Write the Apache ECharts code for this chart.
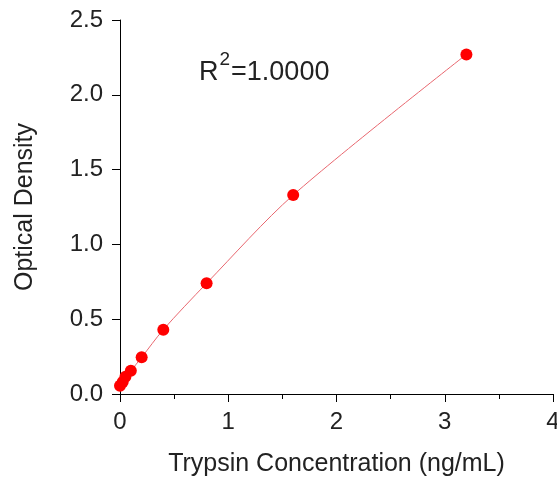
<!DOCTYPE html>
<html>
<head>
<meta charset="utf-8">
<script src="https://cdn.jsdelivr.net/npm/echarts@6/dist/echarts.min.js"></script>
<style>
  html, body { margin: 0; padding: 0; background: #fff; }
  #chart { width: 557px; height: 482px; }
</style>
</head>
<body>
<div id="chart"></div>
<script>
var concentration = [0, 0.025, 0.05, 0.1, 0.2, 0.4, 0.8, 1.6, 3.2];
var density = [0.055, 0.08, 0.115, 0.155, 0.245, 0.43, 0.74, 1.33, 2.27];
var xTicks = [0, 1, 2, 3, 4];
var yTicks = [0, 0.5, 1, 1.5, 2, 2.5];

var points = concentration.map(function (c, i) { return [c, density[i]]; });
var font = "Liberation Sans, Arial, sans-serif";

var chart = echarts.init(document.getElementById("chart"));
chart.setOption({
    animation: false,
    grid: { left: 120, right: 4, top: 20, bottom: 88, outerBoundsMode: "none" },
    xAxis: {
        type: "value",
        min: xTicks[0],
        max: xTicks[xTicks.length - 1],
        interval: 1,
        name: "Trypsin Concentration (ng/mL)",
        nameLocation: "middle",
        nameGap: 58,
        nameTextStyle: { color: "#222", fontSize: 25, fontFamily: font },
        axisLine: { lineStyle: { color: "#000", width: 1 } },
        axisTick: { length: 8, lineStyle: { color: "#000" } },
        minorTick: { show: true, splitNumber: 2, length: 5, lineStyle: { color: "#000" } },
        axisLabel: { color: "#222", fontSize: 24, fontFamily: font, margin: 16 },
        splitLine: { show: false }
    },
    yAxis: {
        type: "value",
        min: yTicks[0],
        max: yTicks[yTicks.length - 1],
        interval: 0.5,
        name: "Optical Density",
        nameLocation: "middle",
        nameGap: 82,
        nameTextStyle: { color: "#222", fontSize: 25, fontFamily: font },
        axisLine: { show: true, lineStyle: { color: "#000", width: 1 } },
        axisTick: { show: true, length: 8, lineStyle: { color: "#000" } },
        axisLabel: {
            color: "#222", fontSize: 24, fontFamily: font, margin: 17,
            formatter: function (v) { return v.toFixed(1); }
        },
        splitLine: { show: false }
    },
    graphic: [{
        type: "text",
        left: 199,
        top: 50,
        style: {
            text: "{b|R}{s|2}{b|=1.0000}",
            rich: {
                b: { fontSize: 27, fontFamily: font, fill: "#222", verticalAlign: "bottom", lineHeight: 36 },
                s: { fontSize: 19, fontFamily: font, fill: "#222", verticalAlign: "top", padding: [0, 1, 14, 1], lineHeight: 36 }
            }
        }
    }],
    series: [{
        type: "line",
        data: points,
        smooth: 0.3,
        symbol: "none",
        lineStyle: { color: "#e8676f", width: 1 },
        z: 2
    }, {
        type: "scatter",
        data: points,
        symbolSize: 12,
        itemStyle: { color: "#ff0000", opacity: 1 },
        z: 3
    }]
});
</script>
</body>
</html>
